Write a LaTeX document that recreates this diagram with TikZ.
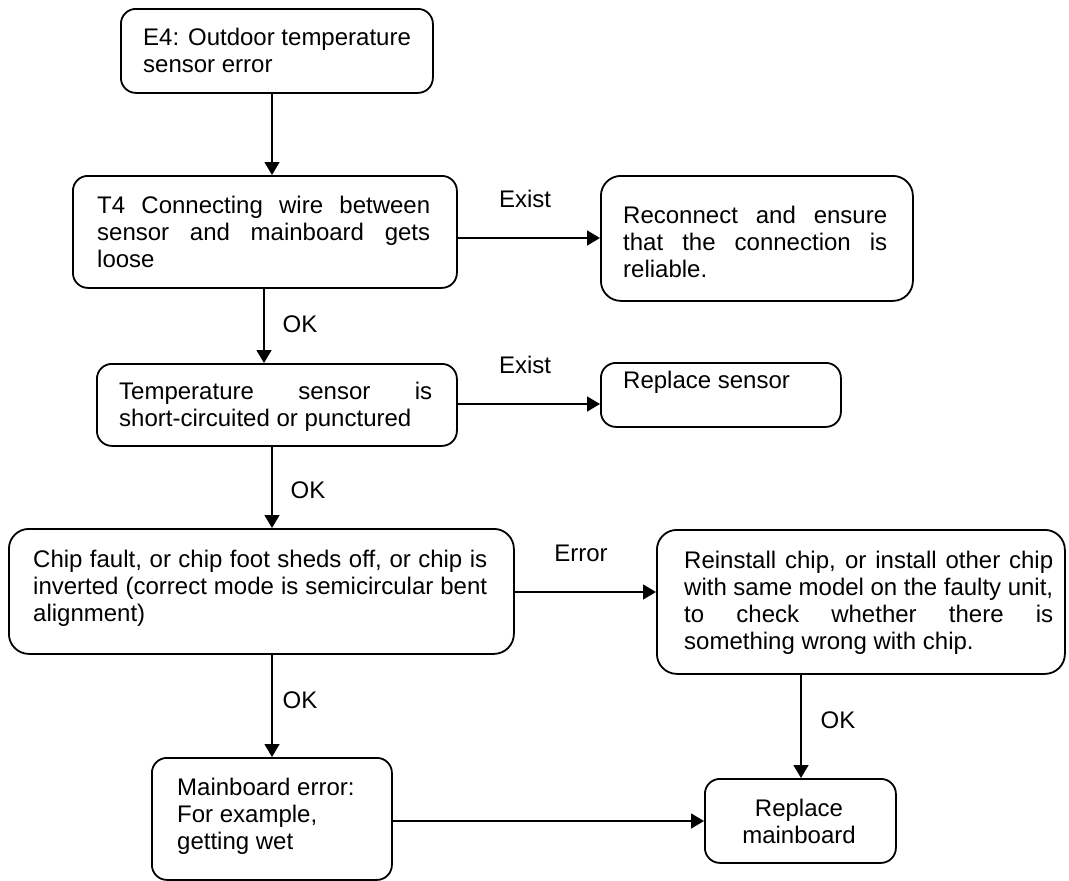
\documentclass[tikz,border=0pt]{standalone}
\usepackage{fontspec}
\setmainfont{Liberation Sans}
\usetikzlibrary{arrows.meta}
\newcommand\jline[2]{\hbox to #1pt{#2}}
\begin{document}
\begin{tikzpicture}[x=1pt,y=-1pt,
  box/.style={draw, line width=1.8pt, rounded corners=15pt, inner sep=0pt, anchor=north west},
  txt/.style={inner sep=0pt, anchor=north west, align=left, font=\fontsize{24}{27}\selectfont},
  arr/.style={line width=1.5pt, -{Triangle[length=13pt,width=15pt]}},
  lbl/.style={inner sep=0pt, font=\fontsize{24}{27}\selectfont}]
\useasboundingbox (0,0) rectangle (1069,881);

% boxes
\node[box, minimum width=312, minimum height=84]  (e4)   at (120,8)   {};
\node[box, minimum width=384, minimum height=112] (t4)   at (72,175)  {};
\node[box, minimum width=312, minimum height=125, rounded corners=20pt] (rec) at (600,175) {};
\node[box, minimum width=360, minimum height=82]  (temp) at (96,363)  {};
\node[box, minimum width=240, minimum height=64]  (rsen) at (600,362) {};
\node[box, minimum width=505, minimum height=125, rounded corners=20pt] (chip) at (8,528) {};
\node[box, minimum width=408, minimum height=144, rounded corners=20pt] (rein) at (656,529) {};
\node[box, minimum width=240, minimum height=122] (mb)   at (151,757) {};
\node[box, minimum width=191, minimum height=84]  (rmb)  at (704,778) {};

% texts
\node[txt] (e4t) at (143,26.1) {\strut E4: Outdoor temperature\\sensor error};
\node[txt] (t4t) at (97,194.1) {\strut\jline{333}{T4 Connecting wire between}\\\jline{333}{sensor and mainboard gets}\\loose};
\node[txt] (rect) at (623,204.1) {\strut\jline{264}{Reconnect and ensure}\\\jline{264}{that the connection is}\\reliable.};
\node[txt] (tempt) at (119,380.1) {\strut\jline{313}{Temperature sensor is}\\short-circuited or punctured};
\node[txt] (rsent) at (623,369.1) {\strut Replace sensor};
\node[txt] (chipt) at (33,548.1) {\strut\jline{454}{Chip fault, or chip foot sheds off, or chip is}\\\jline{454}{inverted (correct mode is semicircular bent}\\alignment)};
\node[txt] (reint) at (684,549.1) {\strut\jline{369}{Reinstall chip, or install other chip}\\\jline{369}{with same model on the faulty unit,}\\\jline{369}{to check whether there is}\\something wrong with chip.};
\node[txt] (mbt) at (177,776.1) {\strut Mainboard error:\\For example,\\getting wet};
\node[txt, anchor=north, align=center] (rmbt) at (799,797.1) {\strut Replace\\mainboard};

% helper coordinates for connector lines
\coordinate (xa) at (272,0);
\coordinate (xb) at (264,0);
\coordinate (xc) at (801,0);
\coordinate (ya) at (0,238);
\coordinate (yb) at (0,404);
\coordinate (yc) at (0,592);
\coordinate (yd) at (0,821);

% connectors
\draw[arr] (xa |- e4.south) -- (xa |- t4.north);
\draw[arr] (xb |- t4.south) -- (xb |- temp.north);
\draw[arr] (xa |- temp.south) -- (xa |- chip.north);
\draw[arr] (xa |- chip.south) -- (xa |- mb.north);
\draw[arr] (t4.east |- ya) -- (rec.west |- ya);
\draw[arr] (temp.east |- yb) -- (rsen.west |- yb);
\draw[arr] (chip.east |- yc) -- (rein.west |- yc);
\draw[arr] (mb.east |- yd) -- (rmb.west |- yd);
\draw[arr] (xc |- rein.south) -- (xc |- rmb.north);

% labels
\node[lbl] (l1) at (525,199) {Exist};
\node[lbl] (l2) at (525,365) {Exist};
\node[lbl] (l3) at (300,324) {OK};
\node[lbl] (l4) at (308,490) {OK};
\node[lbl] (l5) at (581,553) {Error};
\node[lbl] (l6) at (300,700) {OK};
\node[lbl] (l7) at (838,720) {OK};
\end{tikzpicture}
\end{document}
